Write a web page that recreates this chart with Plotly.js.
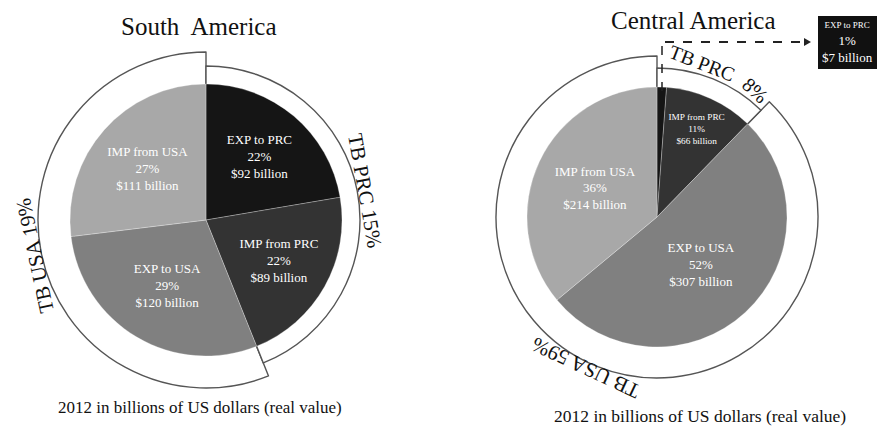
<!DOCTYPE html>
<html>
<head>
<meta charset="utf-8">
<script src="https://cdn.plot.ly/plotly-3.0.1.min.js"></script>
<style>html,body{margin:0;padding:0;background:#fff;}#chart{width:883px;height:427px;}</style>
</head>
<body>
<div id="chart"></div>
<script>
// ---- data ----
var sliceLabels = ["EXP to PRC", "IMP from PRC", "EXP to USA", "IMP from USA"];
var southValues = [92, 89, 120, 111];
var centralValues = [7, 66, 307, 214];
var sliceColors = ["#151515", "#333333", "#808080", "#a8a8a8"];
var southTB = ["TB PRC 15%", "TB USA 19%"];
var centralTB = ["TB PRC", "8%", "TB USA 59%"];
var regionTitles = ["South  America", "Central America"];
var caption = "2012 in billions of US dollars (real value)";

// ---- layout helpers ----
var W = 883, H = 427;
function px(x) { return x / W; }
function py(y) { return 1 - y / H; }
function dom(cx, cy, r) {
  return { x: [(cx - r) / W, (cx + r) / W], y: [1 - (cy + r) / H, 1 - (cy - r) / H] };
}
var FONT = "Liberation Serif, Times New Roman, serif";

function pieTrace(values, cx, cy, r, sizes, hideFirst) {
  var texts = values.map(function (v, i) { return (hideFirst && i === 0) ? "" : "%{label}<br>%{percent:.0%}<br>$%{value} billion"; });
  return {
    type: "pie", labels: sliceLabels, values: values, sort: false,
    direction: "clockwise", rotation: 0, hole: 0,
    domain: dom(cx, cy, r),
    marker: { colors: sliceColors, line: { color: "rgba(255,255,255,0.35)", width: 0.8 } },
    texttemplate: texts, textinfo: "text",
    textposition: "inside", insidetextorientation: "horizontal",
    insidetextfont: { family: FONT, color: "#ffffff", size: sizes },
    hoverinfo: "skip", showlegend: false
  };
}
function ringTrace(values, cx, cy, pieR, ringR, visibleIdx) {
  var prc = values[0] + values[1], usa = values[2] + values[3];
  var vis = [visibleIdx === 0, visibleIdx === 1];
  return {
    type: "pie", labels: ["TB PRC", "TB USA"], values: [prc, usa], sort: false,
    direction: "clockwise", rotation: 0, hole: (pieR - 2) / ringR,
    domain: dom(cx, cy, ringR),
    marker: {
      colors: vis.map(function (v) { return v ? "#ffffff" : "rgba(0,0,0,0)"; }),
      line: { color: vis.map(function (v) { return v ? "#555555" : "rgba(0,0,0,0)"; }), width: vis.map(function (v) { return v ? 1.4 : 0; }) }
    },
    textinfo: "none", hoverinfo: "skip", showlegend: false
  };
}

var SA = { cx: 206, cy: 220, r: 136, rPRC: 154, rUSA: 168 };
var CA = { cx: 657, cy: 217, r: 130, rPRC: 149, rUSA: 161 };

var data = [
  ringTrace(southValues, SA.cx, SA.cy, SA.r, SA.rUSA, 1),
  ringTrace(southValues, SA.cx, SA.cy, SA.r, SA.rPRC, 0),
  pieTrace(southValues, SA.cx, SA.cy, SA.r, [13, 13, 13, 13], false),
  ringTrace(centralValues, CA.cx, CA.cy, CA.r, CA.rUSA, 1),
  ringTrace(centralValues, CA.cx, CA.cy, CA.r, CA.rPRC, 0),
  pieTrace(centralValues, CA.cx, CA.cy, CA.r, [9, 10, 13, 13], true)
];

var caTotal = centralValues.reduce(function (a, b) { return a + b; }, 0);
var caFirstPct = Math.round(centralValues[0] / caTotal * 100);

function ann(text, x, y, size, angle, extra) {
  var a = { text: text, x: px(x), y: py(y), xref: "paper", yref: "paper", showarrow: false,
    xanchor: "center", yanchor: "middle", textangle: angle || 0,
    font: { family: FONT, size: size, color: "#111111" } };
  if (extra) for (var k in extra) a[k] = extra[k];
  return a;
}

var annotations = [
  ann(regionTitles[0], 199, 27, 25, 0),
  ann(regionTitles[1], 693, 20, 25, 0),
  ann(caption, 200, 407, 17, 0),
  ann(caption, 700, 416, 17.5, 0),
  ann(southTB[0], 365, 191, 21, 80),
  ann(southTB[1], 35, 256, 21, -102),
  ann(centralTB[0], 702, 63, 20, 21),
  ann(centralTB[1], 755, 90, 20, 42),
  ann(centralTB[2], 586, 368, 21, -155),
  ann('<span style="font-size:9px">' + sliceLabels[0] + '</span><br>' + caFirstPct + '%<br>$' + centralValues[0] + ' billion',
      847, 42, 13, 0, { bgcolor: "#111111", bordercolor: "#111111", borderpad: 3, font: { family: FONT, size: 13, color: "#ffffff" } })
];

var shapes = [
  { type: "line", xref: "paper", yref: "paper", x0: px(665), y0: py(42), x1: px(805), y1: py(42), line: { color: "#222", width: 2, dash: "dash" } },
  { type: "path", xref: "paper", yref: "paper",
    path: "M " + px(804) + " " + py(38) + " L " + px(811) + " " + py(42) + " L " + px(804) + " " + py(46) + " Z",
    fillcolor: "#222", line: { color: "#222", width: 0 } },
  { type: "line", xref: "paper", yref: "paper", x0: px(662), y0: py(46), x1: px(662), y1: py(95), line: { color: "#222", width: 1.5, dash: "dash" } }
];

var layout = {
  width: W, height: H, margin: { l: 0, r: 0, t: 0, b: 0 },
  paper_bgcolor: "#ffffff", plot_bgcolor: "#ffffff",
  showlegend: false, annotations: annotations, shapes: shapes
};

Plotly.newPlot("chart", data, layout, { displayModeBar: false, staticPlot: true });
</script>
</body>
</html>
